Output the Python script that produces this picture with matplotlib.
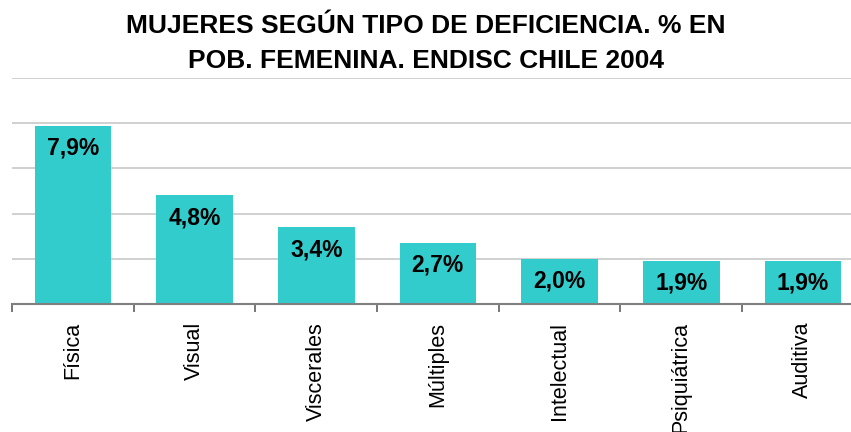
import numpy as np
import matplotlib.pyplot as plt

# datos
categorias = ["Física", "Visual", "Viscerales", "Múltiples", "Intelectual", "Psiquiátrica", "Auditiva"]
valores = [7.9, 4.8, 3.4, 2.7, 2.0, 1.9, 1.9]
etiquetas = ["7,9%", "4,8%", "3,4%", "2,7%", "2,0%", "1,9%", "1,9%"]
titulo = ["MUJERES SEGÚN TIPO DE DEFICIENCIA. % EN", "POB. FEMENINA. ENDISC CHILE 2004"]

plt.rcParams['font.family'] = ['Liberation Sans', 'DejaVu Sans']

W, H = 851, 432
fig = plt.figure(figsize=(W / 100, H / 100), dpi=100)
ax = fig.add_axes([12 / W, (H - 303.7) / H, 851.7 / W, (303.7 - 78.2) / H])

x = np.arange(len(categorias))
ax.bar(x, valores, width=0.63, color="#33CCCC", zorder=3)

for xi, v, t in zip(x, valores, etiquetas):
    ax.annotate(t, (xi, v), xytext=(0, -8), textcoords="offset points",
                ha="center", va="top", fontsize=16.5, fontweight="bold", zorder=4)

ax.set_xlim(-0.5, len(categorias) - 0.5)
ax.set_ylim(0, 10)
ax.set_yticks([0, 2, 4, 6, 8, 10])
ax.yaxis.grid(True, color="#C8C8C8", linewidth=1.2, zorder=0)
ax.tick_params(axis="y", length=0, labelleft=False)

ax.set_xticks(x)
ax.set_xticklabels(categorias, rotation=90, fontsize=15.5)
ax.set_xticks(np.arange(-0.5, len(categorias), 1), minor=True)
ax.tick_params(axis="x", which="major", length=0, pad=13)
ax.tick_params(axis="x", which="minor", length=6, color="#606060", width=1.2)

for s in ["top", "right", "left"]:
    ax.spines[s].set_visible(False)
ax.spines["bottom"].set_color("#7F7F7F")
ax.spines["bottom"].set_linewidth(1.5)
ax.spines["bottom"].set_zorder(5)

fig.text(0.5, 1 - 33 / H, titulo[0], ha="center", va="baseline", fontsize=19, fontweight="bold")
fig.text(0.5, 1 - 68 / H, titulo[1], ha="center", va="baseline", fontsize=19, fontweight="bold")

plt.savefig("out.png", dpi=100)
plt.close()
